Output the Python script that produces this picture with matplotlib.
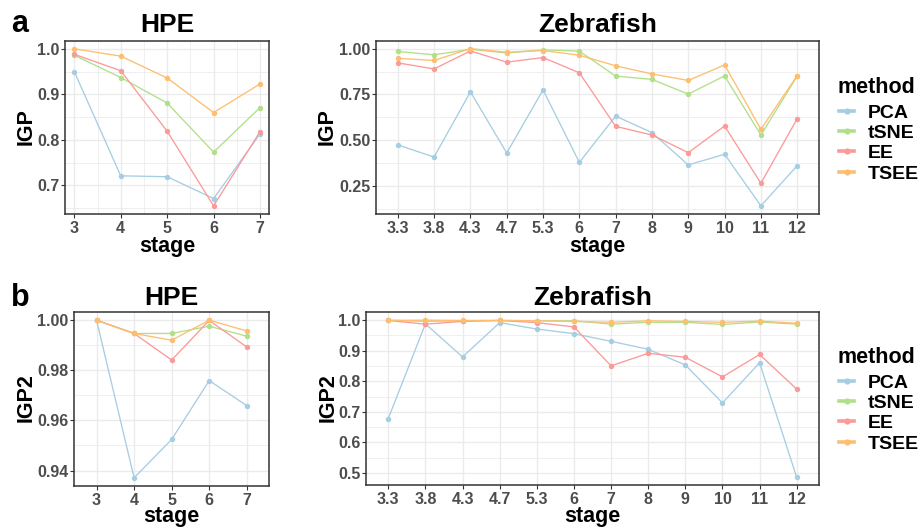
import matplotlib
matplotlib.use('Agg')
import matplotlib.pyplot as plt
from matplotlib.lines import Line2D
from matplotlib.ticker import FixedLocator, FormatStrFormatter

plt.rcParams['font.family'] = ['Liberation Sans', 'DejaVu Sans']
plt.rcParams['font.weight'] = 'bold'

# ---------------- data ----------------
methods = ['PCA', 'tSNE', 'EE', 'TSEE']
colors = ['#A6CEE3', '#B2DF8A', '#FB9A99', '#FDBF6F']

hpe_stages = [3, 4, 5, 6, 7]
hpe_igp_pca = [0.950, 0.721, 0.719, 0.671, 0.813]
hpe_igp_tsne = [0.986, 0.937, 0.881, 0.773, 0.871]
hpe_igp_ee = [0.988, 0.952, 0.819, 0.655, 0.818]
hpe_igp_tsee = [1.000, 0.984, 0.936, 0.860, 0.923]

zf_stages = ['3.3', '3.8', '4.3', '4.7', '5.3', '6', '7', '8', '9', '10', '11', '12']
zf_igp_pca = [0.475, 0.409, 0.764, 0.431, 0.775, 0.380, 0.632, 0.542, 0.366, 0.424, 0.143, 0.362]
zf_igp_tsne = [0.984, 0.966, 0.996, 0.976, 0.993, 0.986, 0.850, 0.832, 0.752, 0.851, 0.529, 0.850]
zf_igp_ee = [0.922, 0.889, 0.987, 0.926, 0.951, 0.868, 0.576, 0.529, 0.433, 0.578, 0.266, 0.618]
zf_igp_tsee = [0.947, 0.935, 1.000, 0.980, 0.989, 0.964, 0.906, 0.862, 0.826, 0.911, 0.560, 0.853]

hpe_igp2_pca = [1.000, 0.9371, 0.9524, 0.9759, 0.9659]
hpe_igp2_tsne = [1.000, 0.9947, 0.9947, 0.9976, 0.9936]
hpe_igp2_ee = [1.000, 0.9947, 0.9841, 0.9999, 0.9893]
hpe_igp2_tsee = [1.000, 0.9947, 0.9920, 1.000, 0.9957]

zf_igp2_pca = [0.678, 0.987, 0.879, 0.991, 0.970, 0.955, 0.930, 0.904, 0.853, 0.729, 0.860, 0.486]
zf_igp2_tsne = [0.999, 0.995, 0.997, 0.998, 0.997, 0.997, 0.986, 0.992, 0.992, 0.985, 0.993, 0.986]
zf_igp2_ee = [0.998, 0.986, 0.995, 0.998, 0.991, 0.977, 0.850, 0.891, 0.878, 0.814, 0.887, 0.774]
zf_igp2_tsee = [0.998, 0.999, 0.998, 0.998, 0.997, 0.995, 0.992, 0.997, 0.995, 0.992, 0.996, 0.989]

# ---------------- layout ----------------
W, H = 918, 530
fig = plt.figure(figsize=(W / 100, H / 100), dpi=100)


def box(l, t, r, b):
    return [l / W, 1 - b / H, (r - l) / W, (b - t) / H]


BORDER = '#333333'
GRID = '#EBEBEB'
TICKLAB = '#4D4D4D'


def style(ax, ymajor, yfmt, xminor=None):
    for s in ax.spines.values():
        s.set_color(BORDER)
        s.set_linewidth(1.1)
    ax.tick_params(which='major', length=2.6, width=0.8, color=BORDER,
                   labelcolor=TICKLAB, labelsize=11.5, pad=1.2)
    ax.tick_params(axis='x', which='major', pad=2.5)
    ax.tick_params(which='minor', length=0)
    ax.yaxis.set_major_locator(FixedLocator(ymajor))
    step = ymajor[1] - ymajor[0]
    yminor = [v - step / 2 for v in ymajor] + [ymajor[-1] + step / 2]
    ax.yaxis.set_minor_locator(FixedLocator(yminor))
    ax.yaxis.set_major_formatter(FormatStrFormatter(yfmt))
    if xminor is not None:
        ax.xaxis.set_minor_locator(FixedLocator(xminor))
    ax.grid(which='major', color=GRID, linewidth=1.0)
    ax.grid(which='minor', color=GRID, linewidth=0.55)
    ax.set_axisbelow(True)


def draw(ax, x, series):
    for vals, c in zip(series, colors):
        ax.plot(x, vals, color=c, linewidth=0.95, zorder=2)
    for vals, c in zip(series, colors):
        ax.plot(x, vals, linestyle='none', marker='o', markersize=3.9,
                markeredgewidth=0, color=c, zorder=3)


def ylims(ax, series):
    lo = min(min(s) for s in series)
    hi = max(max(s) for s in series)
    r = hi - lo
    ax.set_ylim(lo - 0.05 * r, hi + 0.05 * r)


# a: HPE IGP (continuous x)
ax1 = fig.add_axes(box(65, 41, 269.3, 213.7))
s1 = [hpe_igp_pca, hpe_igp_tsne, hpe_igp_ee, hpe_igp_tsee]
draw(ax1, hpe_stages, s1)
ylims(ax1, s1)
r = hpe_stages[-1] - hpe_stages[0]
ax1.set_xlim(hpe_stages[0] - 0.05 * r, hpe_stages[-1] + 0.05 * r)
ax1.set_xticks(hpe_stages)
style(ax1, [0.7, 0.8, 0.9, 1.0], '%.1f', xminor=[s + 0.5 for s in hpe_stages[:-1]])

# a: Zebrafish IGP (discrete x)
ax2 = fig.add_axes(box(376, 40.7, 819, 213.7))
s2 = [zf_igp_pca, zf_igp_tsne, zf_igp_ee, zf_igp_tsee]
draw(ax2, zf_stages, s2)
ylims(ax2, s2)
ax2.set_xlim(-0.6, len(zf_stages) - 1 + 0.6)
style(ax2, [0.25, 0.50, 0.75, 1.00], '%.2f')

# b: HPE IGP2 (discrete x)
ax3 = fig.add_axes(box(74, 312.3, 269.3, 485.7))
hpe_labels = [str(s) for s in hpe_stages]
s3 = [hpe_igp2_pca, hpe_igp2_tsne, hpe_igp2_ee, hpe_igp2_tsee]
draw(ax3, hpe_labels, s3)
ylims(ax3, s3)
ax3.set_xlim(-0.6, len(hpe_labels) - 1 + 0.6)
style(ax3, [0.94, 0.96, 0.98, 1.00], '%.2f')

# b: Zebrafish IGP2 (discrete x)
ax4 = fig.add_axes(box(366, 312.3, 819, 485.3))
s4 = [zf_igp2_pca, zf_igp2_tsne, zf_igp2_ee, zf_igp2_tsee]
draw(ax4, zf_stages, s4)
ylims(ax4, s4)
ax4.set_xlim(-0.6, len(zf_stages) - 1 + 0.6)
style(ax4, [0.5, 0.6, 0.7, 0.8, 0.9, 1.0], '%.1f')


def ftext(x, y, s, **kw):
    fig.text(x / W, 1 - y / H, s, **kw)


# panel letters
ftext(20, 32, 'a', fontsize=22, weight='bold', ha='center', va='baseline')
ftext(20, 306.5, 'b', fontsize=22, weight='bold', ha='center', va='baseline')

# titles
ftext(167, 32.3, 'HPE', fontsize=19, weight='bold', ha='center', va='baseline')
ftext(597.5, 31.7, 'Zebrafish', fontsize=19, weight='bold', ha='center', va='baseline')
ftext(171.5, 305, 'HPE', fontsize=19, weight='bold', ha='center', va='baseline')
ftext(592.5, 305, 'Zebrafish', fontsize=19, weight='bold', ha='center', va='baseline')

# axis titles
for x, y in [(167, 251.5), (597.5, 252), (171.5, 522), (592.5, 522)]:
    ftext(x, y, 'stage', fontsize=15.5, weight='bold', ha='center', va='baseline')
for x, y, s in [(31.7, 127, 'IGP'), (332.7, 127, 'IGP'),
                (31.7, 398, 'IGP2'), (333.3, 398, 'IGP2')]:
    ftext(x, y, s, fontsize=15.5, weight='bold', ha='center', va='baseline',
          rotation=90, rotation_mode='anchor')

# legends
handles = [Line2D([], [], color=c, linewidth=2.6, marker='o', markersize=4.5,
                  markeredgewidth=0) for c in colors]
for title_base, top in [(93.3, 104.0), (363.3, 374.0)]:
    ftext(837.3, title_base, 'method', fontsize=15.5, weight='bold',
          ha='left', va='baseline')
    fig.legend(handles, methods, loc='upper left',
               bbox_to_anchor=(839.3 / W, 1 - top / H),
               frameon=False, borderpad=0, borderaxespad=0,
               handlelength=0.78, handletextpad=0.66, labelspacing=0.14,
               prop={'size': 14, 'weight': 'bold'})

fig.savefig('out.png', dpi=100)
